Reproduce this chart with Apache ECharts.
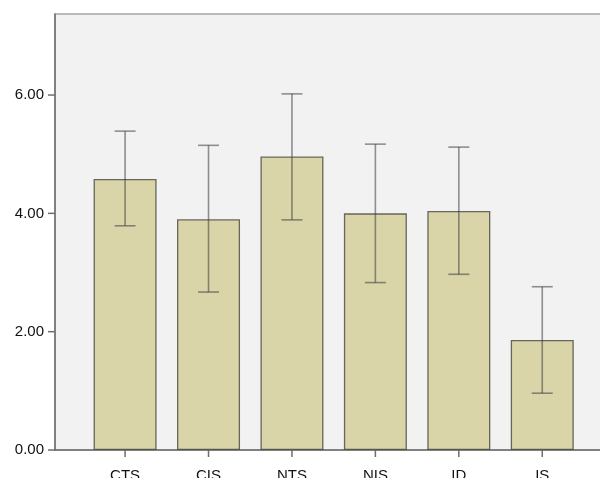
<!DOCTYPE html>
<html>
<head>
<meta charset="utf-8">
<script src="https://cdn.jsdelivr.net/npm/echarts@6/dist/echarts.min.js"></script>
<style>html,body{margin:0;padding:0;background:#fff;overflow:hidden;}#c{width:600px;height:478px;}</style>
</head>
<body>
<div id="c"></div>
<script>
var categories = ['CTS', 'CIS', 'NTS', 'NIS', 'ID', 'IS'];
var means = [4.58, 3.90, 4.96, 4.00, 4.04, 1.86];
var upper = [5.39, 5.15, 6.02, 5.17, 5.12, 2.76];
var lower = [3.79, 2.67, 3.89, 2.83, 2.97, 0.96];
var yTicks = [0, 2, 4, 6];

var X_MIN = -0.84, X_MAX = 5.716;
var idx = categories.map(function (_, i) { return i; });
var chart = echarts.init(document.getElementById('c'));
var font = 'Liberation Sans, Arial, Helvetica, sans-serif';
var axisColor = '#6e6e6e';
chart.setOption({
  animation: false,
  grid: {
    left: 55, right: -2, top: 14, bottom: 28,
    containLabel: false, outerBoundsMode: 'none',
    show: true, backgroundColor: '#f2f2f2', borderColor: '#a6a6a6', borderWidth: 1.5
  },
  xAxis: {
    type: 'value', min: X_MIN, max: X_MAX,
    splitLine: { show: false },
    axisLine: { show: true, onZero: false, lineStyle: { color: axisColor, width: 1.5 } },
    axisTick: { show: false },
    axisLabel: {
      customValues: idx, margin: 18, color: '#111', fontSize: 15, fontFamily: font,
      formatter: function (v) { return categories[Math.round(v)] || ''; }
    }
  },
  yAxis: {
    type: 'value', min: 0, max: 7.37,
    splitLine: { show: false },
    axisLine: { show: true, onZero: false, lineStyle: { color: axisColor, width: 1.5 } },
    axisTick: { show: false },
    axisLabel: {
      customValues: yTicks, margin: 11, color: '#111', fontSize: 15, fontFamily: font,
      formatter: function (v) { return v.toFixed(2); }
    }
  },
  series: [
    {
      type: 'bar', barWidth: 63,
      data: means.map(function (m, i) { return [i, m]; }),
      itemStyle: { color: '#d9d5a9', borderColor: 'rgba(70,70,60,0.8)', borderWidth: 1.3 }
    },
    {
      type: 'custom',
      data: idx.map(function (i) { return [i, lower[i], upper[i]]; }),
      renderItem: function (params, api) {
        var x = api.value(0);
        var lo = api.coord([x, api.value(1)]);
        var hi = api.coord([x, api.value(2)]);
        var hw = 10.5;
        var st = { stroke: 'rgba(60,60,60,0.55)', lineWidth: 1.6 };
        return {
          type: 'group',
          children: [
            { type: 'line', shape: { x1: hi[0], y1: hi[1], x2: lo[0], y2: lo[1] }, style: st },
            { type: 'line', shape: { x1: hi[0] - hw, y1: hi[1], x2: hi[0] + hw, y2: hi[1] }, style: st },
            { type: 'line', shape: { x1: lo[0] - hw, y1: lo[1], x2: lo[0] + hw, y2: lo[1] }, style: st }
          ]
        };
      },
      z: 5
    },
    {
      type: 'custom', silent: true, clip: false,
      data: idx.map(function (i) { return [i, 0]; }),
      renderItem: function (params, api) {
        var p = api.coord([api.value(0), 0]);
        return { type: 'line', shape: { x1: p[0], y1: p[1], x2: p[0], y2: p[1] + 7 },
                 style: { stroke: axisColor, lineWidth: 1.5 } };
      },
      z: 6
    },
    {
      type: 'custom', silent: true, clip: false,
      data: yTicks.map(function (v) { return [X_MIN, v]; }),
      renderItem: function (params, api) {
        var p = api.coord([X_MIN, api.value(1)]);
        return { type: 'line', shape: { x1: p[0] - 7, y1: p[1], x2: p[0], y2: p[1] },
                 style: { stroke: axisColor, lineWidth: 1.5 } };
      },
      z: 6
    }
  ]
});
</script>
</body>
</html>
